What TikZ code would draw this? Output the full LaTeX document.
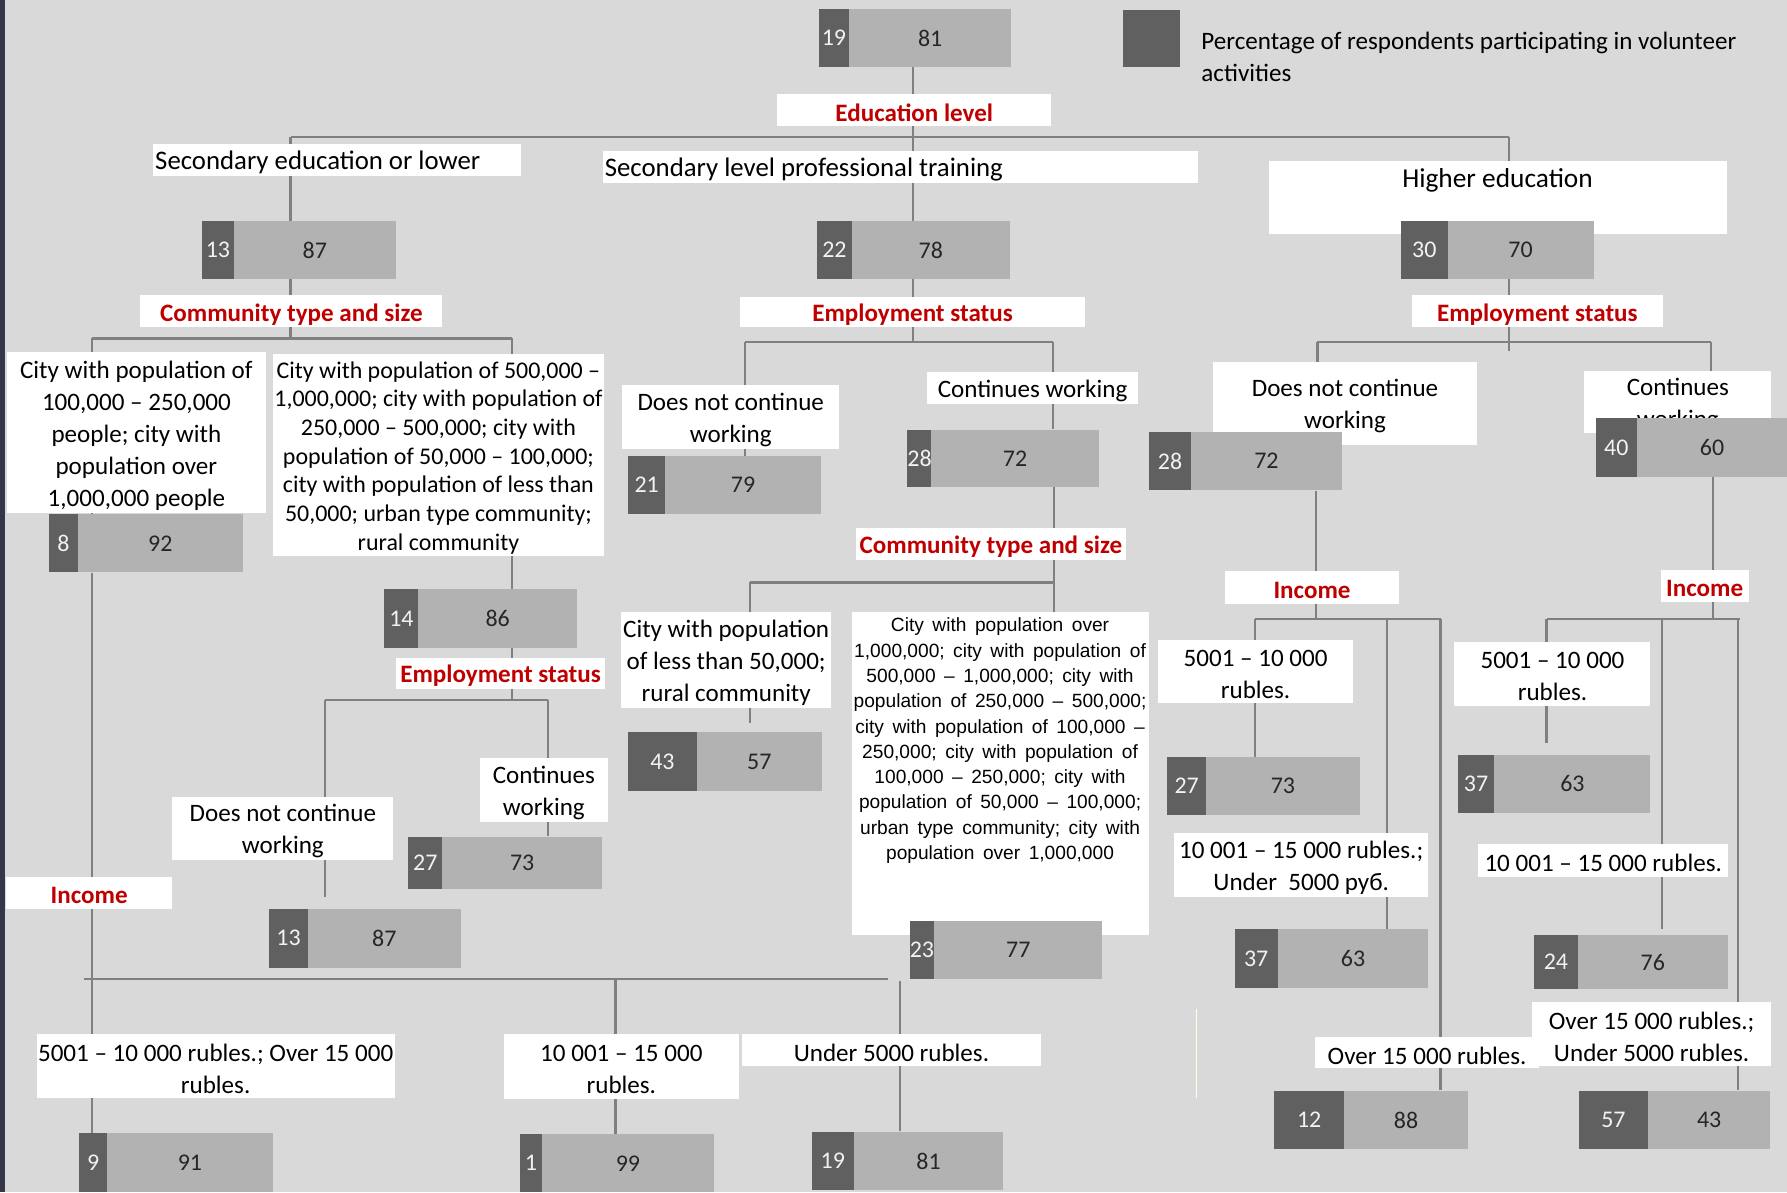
\documentclass[tikz,border=0pt]{standalone}
\usepackage{fontspec}
\setmainfont{Carlito}
\newfontfamily\arialf[WordSpace=1.6]{Liberation Sans}
\usetikzlibrary{fit}
\definecolor{bgc}{HTML}{D9D9D9}
\definecolor{segdark}{HTML}{606060}
\definecolor{seglight}{HTML}{B2B2B2}
\definecolor{labred}{HTML}{C00000}
\definecolor{linegray}{HTML}{808080}
\definecolor{stripc}{HTML}{34364A}
\pgfdeclarelayer{bgl}
\pgfdeclarelayer{lin}
\pgfsetlayers{bgl,lin,main}
\newcommand\fs[2]{\fontsize{#1}{#2}\selectfont}
% name, x1, x2, x3, ytop, ybot, dark number, light number
\newcommand\pbar[8]{%
  \node[darkseg, anchor=north west, minimum width={(#3-#2)*1pt}, minimum height={(#6-#5)*1pt}] (#1d) at (#2,#5) {#7};
  \node[lightseg, anchor=north west, minimum width={(#4-#3)*1pt}, minimum height={(#6-#5)*1pt}] (#1l) at (#3,#5) {#8};
  \node[fit=(#1d)(#1l), inner sep=0pt] (#1) {};
}
% white box: name, x1, y1, x2, y2
\newcommand\wbx[5]{%
  \node[boxfill, anchor=north west, minimum width={(#4-#2)*1pt}, minimum height={(#5-#3)*1pt}] (#1) at (#2,#3) {};
}
% white box with centred text: name, x1, y1, x2, y2, style, text
\newcommand\tbox[7]{%
  \wbx{#1}{#2}{#3}{#4}{#5}
  \node[wtext, #6] (#1t) at ([yshift=-2.5pt]#1.center) {#7};
}
\tikzset{
  darkseg/.style={fill=segdark, text=white!95!black, inner sep=0pt, font=\fs{21}{25}},
  lightseg/.style={fill=seglight, text=black!85, inner sep=0pt, font=\fs{21}{25}},
  boxfill/.style={fill=white, inner sep=0pt},
  wtext/.style={inner sep=0pt, align=center, font=\fs{22}{28}},
  redlab/.style={text=labred, font=\fs{22}{26}\bfseries},
  conn/.style={draw=linegray, line width=2pt},
}
\begin{document}
\begin{tikzpicture}[x=1pt,y=-1pt]
\useasboundingbox (0,0) rectangle (1568,1046);
\begin{pgfonlayer}{bgl}
  \fill[bgc] (0,0) rectangle (1568,1046);
  \fill[stripc] (0,0) rectangle (4,1046);
\end{pgfonlayer}

% ---------- top ----------
\pbar{top}{718}{745}{887}{8}{58.5}{19}{81}
\node[fill=segdark, anchor=north west, minimum width=50pt, minimum height=49.5pt, inner sep=0pt] (leg) at (985,9) {};
\node[anchor=west, align=left, inner sep=0pt, font=\fs{22}{28}] (legT) at (1054,50) {Percentage of respondents participating in volunteer\\activities};
\tbox{edu}{682}{82}{922}{110}{redlab}{Education level}

\wbx{sec}{134}{126}{457}{154}
\node[wtext, anchor=west, font=\fs{23.5}{28}] (sect) at ([xshift=2pt,yshift=-2.5pt]sec.west) {Secondary education or lower};
\wbx{spt}{529}{132}{1051}{160}
\node[wtext, anchor=west, font=\fs{23.5}{28}] (sptt) at ([xshift=1.5pt,yshift=-2.5pt]spt.west) {Secondary level professional training};
\wbx{hiB}{1113}{141}{1515}{205}
\node[wtext, font=\fs{24}{28}] (hiT) at (1314,158) {Higher education};

\pbar{b13}{177}{205}{347}{194}{244.5}{13}{87}
\pbar{b22}{717}{747}{886}{194}{244.5}{22}{78}
\pbar{b30}{1229}{1270}{1398}{194}{244.5}{30}{70}

\tbox{comL}{123}{259}{388}{287}{redlab}{Community type and size}
\tbox{empM}{649}{260}{952}{287}{redlab}{Employment status}
\tbox{empR}{1238.5}{259}{1459}{287}{redlab}{Employment status}

% ---------- left branch ----------
\tbox{cityA}{6}{309}{233}{450}{}{City with population of\\100,000 – 250,000\\people; city with\\population over\\1,000,000 people}
\tbox{cityB}{239}{310}{530}{488}{font=\fs{21}{25.2}}{City with population of 500,000 –\\1,000,000; city with population of\\250,000 – 500,000; city with\\population of 50,000 – 100,000;\\city with population of less than\\50,000; urban type community;\\rural community}
\pbar{b8}{43}{68}{213}{451}{502}{8}{92}
\pbar{b14}{337}{367}{506}{517}{568}{14}{86}
\tbox{empL}{347}{577}{531}{604}{redlab}{Employment status}
\tbox{dncL}{151}{699}{345}{754}{}{Does not continue\\working}
\tbox{cwL}{421}{665}{533}{721}{}{Continues\\working}
\pbar{b27}{358}{388}{528}{734}{780}{27}{73}
\pbar{b13b}{236}{270}{404}{797}{849}{13}{87}
\tbox{incL}{5}{769}{151}{797}{redlab}{Income}
\tbox{r1}{32}{907}{346}{963}{}{5001 – 10 000 rubles.; Over 15 000\\rubles.}
\tbox{r2}{442}{907}{648}{964}{}{10 001 – 15 000\\rubles.}
\tbox{r3}{651}{907}{913}{935}{}{Under 5000 rubles.}
\pbar{b9}{69}{94}{239}{994}{1046}{9}{91}
\pbar{b1}{456}{475.5}{626}{995}{1046}{1}{99}
\pbar{b19}{712}{749}{880}{993}{1044}{19}{81}

% ---------- middle branch ----------
\tbox{dncM}{546}{338}{736}{394}{}{Does not continue\\working}
\tbox{cwM}{813.6}{326.5}{998}{354}{}{Continues working}
\pbar{b21}{551}{583.5}{720}{400}{451}{21}{79}
\pbar{b28m}{796}{817}{964}{377}{427}{28}{72}
\tbox{comM}{751}{463}{987.5}{491}{redlab}{Community type and size}
\tbox{cityC}{545}{537}{729}{621}{}{City with population\\of less than 50,000;\\rural community}
\pbar{b43}{551}{611}{721}{642}{694}{43}{57}
\wbx{bigB}{747}{537}{1008}{820}
\node[align=center, inner sep=0pt, font=\arialf\fs{16.8}{22.2}] (bigT) at (877.5,650) {City with population over\\1,000,000; city with population of\\500,000 – 1,000,000; city with\\population of 250,000 – 500,000;\\city with population of 100,000 –\\250,000; city with population of\\100,000 – 250,000; city with\\population of 50,000 – 100,000;\\urban type community; city with\\population over 1,000,000};
\pbar{b23}{798}{819.5}{967}{808}{859}{23}{77}

% ---------- right branch ----------
\tbox{dncR}{1064}{317}{1296}{390}{}{Does not continue\\working}
\pbar{b28r}{1008}{1045}{1177}{379}{430}{28}{72}
\tbox{cwR}{1390}{325}{1554}{380}{}{Continues\\working}
\pbar{b40}{1400}{1436}{1568}{367}{418}{40}{60}
\tbox{incR}{1075}{501}{1227}{530}{redlab}{Income}
\tbox{incS}{1457}{500}{1534}{528}{redlab}{Income}
\tbox{r4}{1016}{561}{1187}{617}{}{5001 – 10 000\\rubles.}
\pbar{b27r}{1024}{1058}{1193}{664}{715}{27}{73}
\tbox{r5}{1030}{731}{1253}{787}{}{10 001 – 15 000 rubles.;\\Under\ \ 5000 руб.}
\pbar{b37a}{1083}{1121}{1253}{815}{867}{37}{63}
\tbox{r6}{1154}{910}{1350}{937}{}{Over 15 000 rubles.}
\pbar{b12}{1118}{1179}{1288}{957}{1008}{12}{88}
\tbox{r7}{1276}{563}{1448}{619}{}{5001 – 10 000\\rubles.}
\pbar{b37b}{1279}{1311}{1448}{662}{713}{37}{63}
\tbox{r8}{1297}{740}{1516}{769}{}{10 001 – 15 000 rubles.}
\pbar{b24}{1346}{1384}{1516}{820}{868}{24}{76}
\tbox{r9}{1344}{879}{1554}{935}{}{Over 15 000 rubles.;\\Under 5000 rubles.}
\pbar{b57}{1385}{1446}{1553}{957}{1008}{57}{43}

% ---------- connectors ----------
\begin{pgfonlayer}{lin}
  \coordinate (eM) at (801,120); \coordinate (eL) at (255,120); \coordinate (eR) at (1324,120);
  \draw[conn] (top.south -| eM) -- (eM);
  \draw[conn] (eL) -- (eR);
  \draw[conn] (eL) -- (b13.north -| eL);
  \draw[conn] (eM) -- (b22.north -| eM);
  \draw[conn] (eR) -- (b30.north -| eR);
  % left
  \coordinate (cM) at (255,297); \coordinate (cL) at (81,297); \coordinate (cR) at (449,297);
  \draw[conn] (b13.south -| cM) -- (cM);
  \draw[conn] (cL) -- (cR);
  \draw[conn] (cL) -- (b8.north -| cL);
  \draw[conn] (cR) -- (b14.north -| cR);
  \coordinate (kM) at (449,614); \coordinate (kL) at (285,614); \coordinate (kR) at (481,614);
  \draw[conn] (b14.south -| kM) -- (kM);
  \draw[conn] (kL) -- (kR);
  \draw[conn, shorten >=10pt] (kL) -- (b13b.north -| kL);
  \draw[conn] (kR) -- (b27.north -| kR);
  \coordinate (iL) at (74,859); \coordinate (iR) at (779,859); \coordinate (iV) at (81,859);
  \draw[conn] (b8.south -| iV) -- (b9.north -| iV);
  \draw[conn] (iL) -- (iR);
  \coordinate (iA) at (540,859); \coordinate (iB) at (790,861);
  \draw[conn] (iA) -- (b1.north -| iA);
  \draw[conn] (iB) -- (b19.north -| iB);
  % middle
  \coordinate (mM) at (801,300); \coordinate (mL) at (654,300); \coordinate (mR) at (924,300);
  \draw[conn] (b22.south -| mM) -- (mM);
  \draw[conn] (mL) -- (mR);
  \draw[conn] (mL) -- (b21.north -| mL);
  \draw[conn] (mR) -- (b28m.north -| mR);
  \coordinate (nR) at (925,511); \coordinate (nL) at (658,511);
  \draw[conn] (b28m.south -| nR) -- (nR);
  \draw[conn] (nL) -- (nR);
  \draw[conn, shorten >=7pt] (nL) -- (b43.north -| nL);
  \draw[conn] (nR) -- (bigB.north -| nR);
  % right
  \coordinate (rM) at (1324,300); \coordinate (rL) at (1156,300); \coordinate (rR) at (1501,300); \coordinate (rX) at (1324,308);
  \draw[conn] (b30.south -| rM) -- (rX);
  \draw[conn] (rL) -- (rR);
  \draw[conn] (rL) -- (b28r.north -| rL);
  \draw[conn] (rR) -- (b40.north -| rR);
  \coordinate (sM) at (1155,543); \coordinate (sL) at (1101,543); \coordinate (sC) at (1217,543); \coordinate (sR) at (1264,543);
  \draw[conn] (b28r.south -| sM) -- (sM);
  \draw[conn] (sL) -- (sR);
  \draw[conn] (sL) -- (b27r.north -| sL);
  \draw[conn] (sC) -- (b37a.north -| sC);
  \draw[conn] (sR) -- (b12.north -| sR);
  \coordinate (tM) at (1503,543); \coordinate (tL) at (1357,543); \coordinate (tC) at (1458,543); \coordinate (tR) at (1527,543); \coordinate (tV) at (1525,543);
  \draw[conn] (b40.south -| tM) -- (tM);
  \draw[conn] (tL) -- (tR);
  \draw[conn, shorten >=10pt] (tL) -- (b37b.north -| tL);
  \draw[conn, shorten >=5pt] (tC) -- (b24.north -| tC);
  \draw[conn] (tV) -- (b57.north -| tV);
  % faint stray mark
  \coordinate (fA) at (1050,885); \coordinate (fB) at (1050,963);
  \draw[yellow!8!white, line width=1pt] (fA) -- (fB);
\end{pgfonlayer}
\end{tikzpicture}
\end{document}
